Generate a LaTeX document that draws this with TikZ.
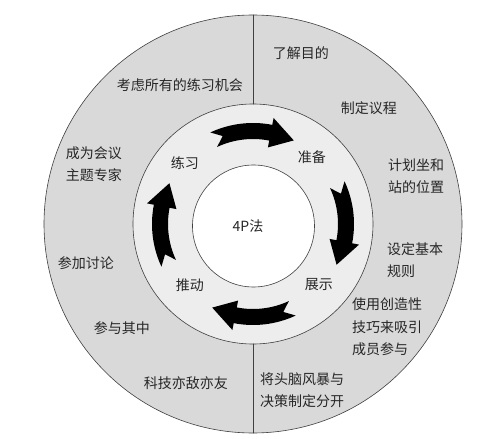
\documentclass[tikz,border=0pt]{standalone}
\usepackage{fontspec}
\setmainfont{Noto Sans CJK SC}
\usepackage{tikz}

\begin{document}
\begin{tikzpicture}[line cap=round,line join=round,x=1pt,y=1pt,
  ringline/.style={line width=0.6pt,draw=black!75},
  lbl/.style={inner sep=0pt,align=left,font=\fontsize{14}{22.5}\selectfont,text=black!85}]
\useasboundingbox (-253,-215) rectangle (248,224);
\fill [white] (-253,-215) rectangle (248,224);
\filldraw [ringline,fill=black!15] (0,0) circle (209);
\filldraw [ringline,fill=black!7] (0,0) circle (120);
\filldraw [ringline,fill=white] (0.5,-2) circle (61);
\draw [ringline] (90:120) -- (90:209);
\draw [ringline] (-90:120) -- (-90:209);
\foreach \c in {90,0,-90,180}
  \fill [black] ({\c+25}:101) arc[start angle={\c+25},end angle={\c-11},radius=101]
    -- ({\c-11}:108) -- ({\c-26}:93) -- ({\c-11}:78) -- ({\c-11}:85)
    arc[start angle={\c-11},end angle={\c+25},radius=85] -- ({\c+19}:93) -- cycle;
\node [lbl] (fa) at (-5,-2) {4P法};
\node [lbl] (lianxi) at (-68,61) {练习};
\node [lbl] (zhunbei) at (59,67) {准备};
\node [lbl] (zhanshi) at (66,-61) {展示};
\node [lbl] (tuidong) at (-63,-61) {推动};
\node [lbl] (mudi) at (48,171) {了解目的};
\node [lbl] (yicheng) at (116,116) {制定议程};
\node [lbl] (weizhi) at (163,48) {计划坐和\\站的位置};
\node [lbl,anchor=west] (guize) at (134,-36) {设定基本\\规则};
\node [lbl,anchor=west] (jiqiao) at (99,-103) {使用创造性\\技巧来吸引\\成员参与};
\node [lbl,anchor=west] (juece) at (7,-166) {将头脑风暴与\\决策制定分开};
\node [lbl] (keji) at (-67,-159) {科技亦敌亦友};
\node [lbl] (canyu) at (-131,-104) {参与其中};
\node [lbl] (taolun) at (-167,-39) {参加讨论};
\node [lbl] (zhuanjia) at (-159,60) {成为会议\\主题专家};
\node [lbl] (jihui) at (-73,139) {考虑所有的练习机会};
\end{tikzpicture}
\end{document}
